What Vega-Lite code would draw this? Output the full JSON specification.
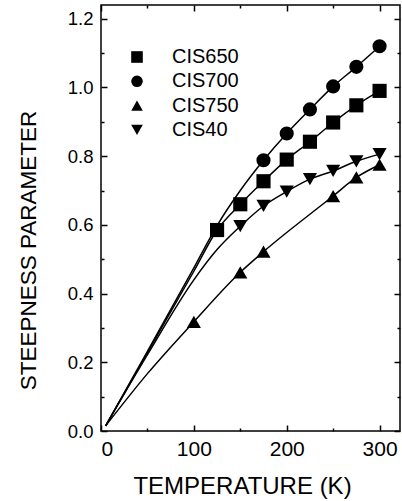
{
  "$schema": "https://vega.github.io/schema/vega-lite/v6.json",
  "width": 299,
  "height": 426,
  "autosize": "none",
  "padding": {"left": 101, "top": 5, "right": 2, "bottom": 70},
  "config": {
    "view": {"stroke": "black", "strokeWidth": 1.5},
    "font": "Liberation Sans",
    "axis": {"domain": false, "grid": false, "tickColor": "black", "tickWidth": 1.5, "labelColor": "black", "titleColor": "black", "titleFontWeight": "normal", "labelFont": "Liberation Sans", "titleFont": "Liberation Sans"}
  },
  "datasets": {
    "pts": [
      {"series": "CIS650", "T": 125, "S": 0.585},
      {"series": "CIS650", "T": 150, "S": 0.66},
      {"series": "CIS650", "T": 175, "S": 0.727},
      {"series": "CIS650", "T": 200, "S": 0.79},
      {"series": "CIS650", "T": 225, "S": 0.842},
      {"series": "CIS650", "T": 250, "S": 0.898},
      {"series": "CIS650", "T": 275, "S": 0.948},
      {"series": "CIS650", "T": 300, "S": 0.99},
      {"series": "CIS700", "T": 175, "S": 0.788},
      {"series": "CIS700", "T": 200, "S": 0.866},
      {"series": "CIS700", "T": 225, "S": 0.936},
      {"series": "CIS700", "T": 250, "S": 1.003},
      {"series": "CIS700", "T": 275, "S": 1.06},
      {"series": "CIS700", "T": 300, "S": 1.12},
      {"series": "CIS750", "T": 100, "S": 0.318},
      {"series": "CIS750", "T": 150, "S": 0.462},
      {"series": "CIS750", "T": 175, "S": 0.522},
      {"series": "CIS750", "T": 250, "S": 0.684},
      {"series": "CIS750", "T": 275, "S": 0.738},
      {"series": "CIS750", "T": 300, "S": 0.775},
      {"series": "CIS40", "T": 150, "S": 0.596},
      {"series": "CIS40", "T": 175, "S": 0.655},
      {"series": "CIS40", "T": 200, "S": 0.697},
      {"series": "CIS40", "T": 225, "S": 0.733},
      {"series": "CIS40", "T": 250, "S": 0.757},
      {"series": "CIS40", "T": 275, "S": 0.785},
      {"series": "CIS40", "T": 300, "S": 0.806}
    ],
    "fit": [
      {"series": "CIS650", "T": 5, "S": 0.015},
      {"series": "CIS650", "T": 50, "S": 0.228},
      {"series": "CIS650", "T": 100, "S": 0.465},
      {"series": "CIS650", "T": 125, "S": 0.585},
      {"series": "CIS650", "T": 150, "S": 0.66},
      {"series": "CIS650", "T": 175, "S": 0.727},
      {"series": "CIS650", "T": 200, "S": 0.79},
      {"series": "CIS650", "T": 225, "S": 0.842},
      {"series": "CIS650", "T": 250, "S": 0.898},
      {"series": "CIS650", "T": 275, "S": 0.948},
      {"series": "CIS650", "T": 300, "S": 0.99},
      {"series": "CIS700", "T": 5, "S": 0.015},
      {"series": "CIS700", "T": 50, "S": 0.232},
      {"series": "CIS700", "T": 100, "S": 0.475},
      {"series": "CIS700", "T": 125, "S": 0.598},
      {"series": "CIS700", "T": 150, "S": 0.7},
      {"series": "CIS700", "T": 175, "S": 0.788},
      {"series": "CIS700", "T": 200, "S": 0.866},
      {"series": "CIS700", "T": 225, "S": 0.936},
      {"series": "CIS700", "T": 250, "S": 1.003},
      {"series": "CIS700", "T": 275, "S": 1.06},
      {"series": "CIS700", "T": 300, "S": 1.12},
      {"series": "CIS750", "T": 5, "S": 0.015},
      {"series": "CIS750", "T": 50, "S": 0.167},
      {"series": "CIS750", "T": 100, "S": 0.318},
      {"series": "CIS750", "T": 150, "S": 0.462},
      {"series": "CIS750", "T": 175, "S": 0.522},
      {"series": "CIS750", "T": 250, "S": 0.684},
      {"series": "CIS750", "T": 275, "S": 0.738},
      {"series": "CIS750", "T": 300, "S": 0.775},
      {"series": "CIS40", "T": 5, "S": 0.015},
      {"series": "CIS40", "T": 50, "S": 0.222},
      {"series": "CIS40", "T": 100, "S": 0.44},
      {"series": "CIS40", "T": 125, "S": 0.528},
      {"series": "CIS40", "T": 150, "S": 0.596},
      {"series": "CIS40", "T": 175, "S": 0.655},
      {"series": "CIS40", "T": 200, "S": 0.697},
      {"series": "CIS40", "T": 225, "S": 0.733},
      {"series": "CIS40", "T": 250, "S": 0.757},
      {"series": "CIS40", "T": 275, "S": 0.785},
      {"series": "CIS40", "T": 300, "S": 0.806}
    ]
  },
  "layer": [
    {
      "data": {"name": "fit"},
      "mark": {"type": "line", "interpolate": "monotone", "color": "black", "strokeWidth": 1.5},
      "encoding": {
        "x": {"field": "T", "type": "quantitative", "scale": {"domain": [0, 322], "nice": false, "zero": false},
              "axis": {"orient": "top", "values": [0, 50, 100, 150, 200, 250, 300], "labels": false, "title": null,
                       "tickSize": {"condition": {"test": "datum.value % 100 === 0", "value": -6}, "value": -3}}},
        "y": {"field": "S", "type": "quantitative", "scale": {"domain": [0, 1.24], "nice": false, "zero": false},
              "axis": {"orient": "right", "values": [0, 0.1, 0.2, 0.3, 0.4, 0.5, 0.6, 0.7, 0.8, 0.9, 1.0, 1.1, 1.2], "labels": false, "title": null,
                       "tickSize": {"condition": {"test": "round(datum.value*10) % 2 === 0", "value": -6}, "value": -3}}},
        "detail": {"field": "series"}
      }
    },
    {
      "data": {"name": "pts"},
      "mark": {"type": "point", "filled": true, "color": "black", "opacity": 1, "size": 200},
      "encoding": {
        "x": {"field": "T", "type": "quantitative",
              "axis": {"orient": "bottom", "values": [0, 50, 100, 150, 200, 250, 300],
                       "labelExpr": "datum.value % 100 === 0 ? datum.label : ''",
                       "labelFontSize": 21, "labelPadding": 13,
                       "tickSize": {"condition": {"test": "datum.value % 100 === 0", "value": -6}, "value": -3},
                       "title": "TEMPERATURE (K)", "titleFontSize": 24, "titleX": 141, "titleY": 62, "titleBaseline": "alphabetic"}},
        "y": {"field": "S", "type": "quantitative",
              "axis": {"orient": "left", "values": [0, 0.1, 0.2, 0.3, 0.4, 0.5, 0.6, 0.7, 0.8, 0.9, 1.0, 1.1, 1.2],
                       "labelExpr": "round(datum.value*10) % 2 === 0 ? format(datum.value, '.1f') : ''",
                       "labelFontSize": 18.5, "labelPadding": 14,
                       "tickSize": {"condition": {"test": "round(datum.value*10) % 2 === 0", "value": -6}, "value": -3},
                       "title": "STEEPNESS PARAMETER", "titleFontSize": 22.5, "titleX": -66, "titleY": 245, "titleBaseline": "alphabetic", "titleAlign": "center", "titleAngle": -90}},
        "shape": {"field": "series", "type": "nominal",
                  "scale": {"domain": ["CIS650", "CIS700", "CIS750", "CIS40"], "range": ["square", "circle", "triangle-up", "triangle-down"]},
                  "legend": {"orient": "none", "legendX": 26, "legendY": 42, "title": null, "padding": 0, "symbolSize": 135, "symbolType": "circle", "symbolFillColor": "black", "symbolStrokeColor": "black", "labelFontSize": 20, "labelFont": "Liberation Sans", "labelColor": "black", "labelOffset": 25, "rowPadding": 4.3}}
      }
    }
  ],
  "resolve": {"axis": {"x": "independent", "y": "independent"}}
}
